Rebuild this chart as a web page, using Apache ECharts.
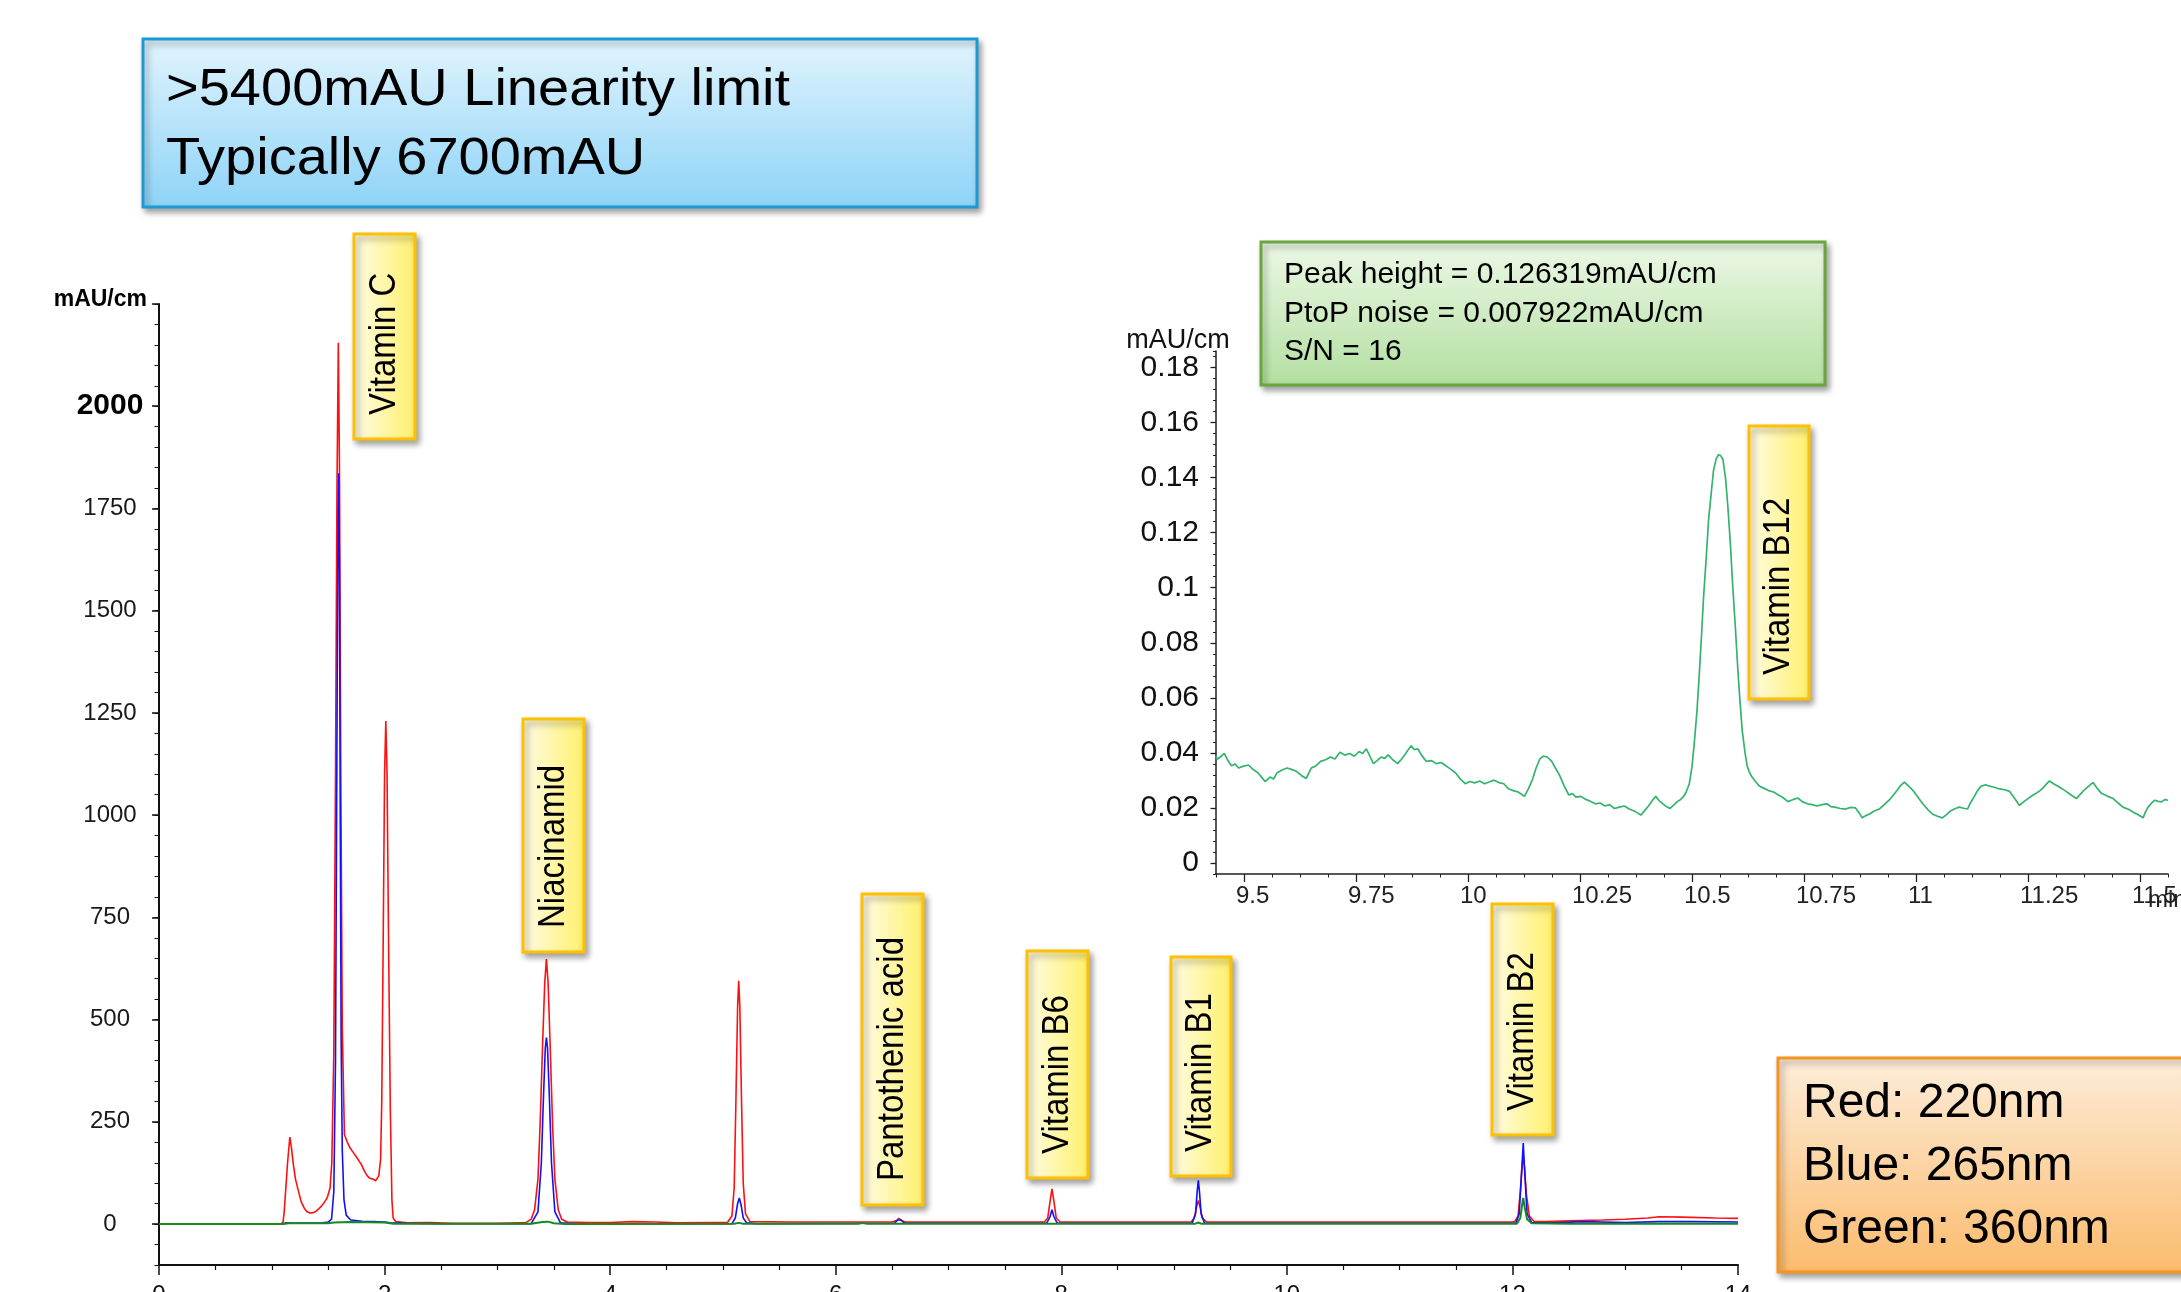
<!DOCTYPE html>
<html>
<head>
<meta charset="utf-8">
<script src="https://cdn.jsdelivr.net/npm/echarts@6/dist/echarts.min.js"></script>
<style>
html,body{margin:0;padding:0;background:#fff;}
#chart{width:2181px;height:1292px;}
</style>
</head>
<body>
<div id="chart"></div>
<script>
// ---------- DATA ----------
// Main chromatogram: [retention time (min), absorbance (mAU/cm)]
const red220 = [
[0,0],[1.08,0],[1.10,5],[1.11,30],[1.125,34],[1.14,150],[1.16,213],[1.175,185],[1.19,148],[1.21,110],
[1.237,80],[1.26,55],[1.288,39],[1.31,31],[1.339,27],[1.365,28],[1.39,31],[1.415,37],[1.44,44],[1.465,53],
[1.491,64],[1.517,89],[1.532,150],[1.55,420],[1.565,1100],[1.578,1800],[1.59,2155],[1.60,1850],[1.612,1100],
[1.625,480],[1.644,219],[1.67,200],[1.695,186],[1.72,176],[1.746,166],[1.77,156],[1.796,145],[1.82,130],
[1.847,118],[1.87,112],[1.898,110],[1.92,106],[1.949,118],[1.965,160],[1.975,300],[1.988,700],[2.0,1100],
[2.011,1230],[2.022,1100],[2.035,700],[2.051,280],[2.065,60],[2.076,15],[2.10,6],[2.2,3],[2.4,4],[2.6,2],
[3.0,2],[3.2,3],[3.25,3],[3.30,12],[3.33,35],[3.36,110],[3.38,250],[3.40,430],[3.42,590],[3.435,648],
[3.45,590],[3.47,420],[3.49,240],[3.51,110],[3.54,35],[3.57,12],[3.62,5],[3.8,4],[4.0,4],[4.2,6],[4.4,5],
[4.6,3],[4.9,4],[5.04,4],[5.08,20],[5.10,90],[5.115,300],[5.13,530],[5.14,595],[5.15,530],[5.165,300],
[5.18,100],[5.20,25],[5.24,6],[5.6,5],[6.0,5],[6.3,5],[6.50,5],[6.54,9],[6.56,14],[6.58,9],[6.62,5],
[7.0,5],[7.5,5],[7.85,5],[7.88,15],[7.90,55],[7.917,86],[7.935,55],[7.955,15],[7.99,5],[8.5,5],[9.15,5],
[9.18,15],[9.20,42],[9.215,58],[9.23,42],[9.25,15],[9.29,5],[10,5],[11,5],[12.0,5],[12.02,6],[12.05,20],
[12.07,80],[12.085,140],[12.096,166],[12.107,140],[12.125,70],[12.15,20],[12.19,7],[12.3,6],[12.5,8],
[12.8,10],[13.0,12],[13.2,15],[13.3,18],[13.5,17],[13.8,15],[14,14]
];
const blue265 = [
[0,0],[1.10,0],[1.12,3],[1.2,2],[1.45,3],[1.50,5],[1.53,12],[1.55,80],[1.565,400],[1.578,1200],[1.588,1750],
[1.593,1836],[1.60,1600],[1.607,1000],[1.615,450],[1.625,180],[1.64,60],[1.66,22],[1.70,10],[1.8,7],[1.9,6],
[2.0,5],[2.05,3],[2.2,2],[2.5,1],[3.30,1],[3.36,30],[3.39,150],[3.41,320],[3.425,430],[3.435,456],[3.445,430],
[3.46,320],[3.48,150],[3.51,30],[3.56,3],[3.7,1],[5.08,1],[5.11,15],[5.13,50],[5.145,64],[5.16,48],[5.18,15],
[5.21,3],[5.3,1],[6.52,2],[6.55,10],[6.565,13],[6.58,10],[6.61,2],[7.87,2],[7.90,18],[7.917,35],[7.935,18],
[7.965,2],[9.16,2],[9.19,25],[9.205,80],[9.215,107],[9.225,80],[9.24,25],[9.27,2],[12.03,2],[12.06,25],
[12.08,120],[12.096,198],[12.11,120],[12.13,25],[12.17,4],[12.4,3],[12.6,6],[13.0,4],[13.3,6],[13.6,6],[14,5]
];
const green360 = [
[0,0],[1.1,0],[1.15,2],[1.5,2],[1.55,4],[1.7,5],[2.0,4],[2.08,1],[3.3,1],[3.40,5],[3.45,6],[3.5,2],[3.6,0],
[5.1,1],[5.14,3],[5.18,1],[6.20,1],[6.24,3],[6.28,1],[9.19,1],[9.215,4],[9.24,1],[12.04,1],[12.07,15],
[12.085,45],[12.096,64],[12.11,40],[12.13,12],[12.17,2],[12.5,1],[14,1]
];
// Inset (zoom on Vitamin B12, 360 nm)
const b12Trace = [
[9.4375,0.0390],[9.440,0.0377],[9.448,0.0386],[9.456,0.0398],[9.464,0.0372],[9.472,0.0353],[9.480,0.0360],
[9.488,0.0345],[9.499,0.0352],[9.510,0.0356],[9.520,0.0340],[9.531,0.0328],[9.540,0.0310],[9.547,0.0296],
[9.558,0.0312],[9.566,0.0305],[9.574,0.0328],[9.585,0.0338],[9.596,0.0345],[9.606,0.0340],[9.617,0.0333],
[9.628,0.0318],[9.639,0.0307],[9.650,0.0345],[9.660,0.0352],[9.671,0.0369],[9.682,0.0375],[9.693,0.0385],
[9.703,0.0378],[9.714,0.0402],[9.725,0.0392],[9.736,0.0398],[9.746,0.0388],[9.757,0.0405],[9.765,0.0398],
[9.773,0.0415],[9.789,0.0361],[9.797,0.0372],[9.806,0.0385],[9.814,0.0380],[9.822,0.0393],[9.832,0.0375],
[9.843,0.0361],[9.851,0.0376],[9.859,0.0393],[9.866,0.0410],[9.873,0.0426],[9.880,0.0412],[9.888,0.0415],
[9.897,0.0390],[9.907,0.0369],[9.918,0.0372],[9.929,0.0361],[9.940,0.0365],[9.951,0.0353],[9.962,0.0340],
[9.972,0.0328],[9.983,0.0305],[9.994,0.0288],[10.004,0.0296],[10.015,0.0291],[10.026,0.0298],[10.037,0.0288],
[10.047,0.0294],[10.058,0.0301],[10.069,0.0292],[10.080,0.0288],[10.090,0.0270],[10.101,0.0263],[10.112,0.0258],
[10.126,0.0242],[10.135,0.0270],[10.144,0.0304],[10.152,0.0345],[10.160,0.0377],[10.168,0.0388],[10.177,0.0385],
[10.187,0.0369],[10.195,0.0345],[10.204,0.0320],[10.214,0.0282],[10.225,0.0247],[10.233,0.0252],[10.241,0.0239],
[10.252,0.0242],[10.263,0.0231],[10.273,0.0224],[10.284,0.0215],[10.295,0.0218],[10.306,0.0207],[10.316,0.0212],
[10.327,0.0198],[10.338,0.0203],[10.349,0.0207],[10.360,0.0196],[10.370,0.0190],[10.378,0.0182],[10.386,0.0174],
[10.395,0.0192],[10.403,0.0207],[10.411,0.0226],[10.419,0.0242],[10.427,0.0226],[10.435,0.0215],[10.443,0.0205],
[10.451,0.0198],[10.459,0.0210],[10.467,0.0223],[10.474,0.0230],[10.480,0.0239],[10.487,0.0258],[10.494,0.0288],
[10.500,0.0350],[10.505,0.0434],[10.511,0.0550],[10.516,0.0678],[10.521,0.0820],[10.526,0.0971],[10.532,0.1115],
[10.537,0.1247],[10.543,0.1345],[10.548,0.1426],[10.554,0.1468],[10.559,0.1483],[10.564,0.1480],[10.569,0.1467],
[10.575,0.1395],[10.580,0.1296],[10.586,0.1150],[10.591,0.1003],[10.597,0.0850],[10.602,0.0711],[10.607,0.0590],
[10.612,0.0483],[10.618,0.0405],[10.623,0.0353],[10.628,0.0330],[10.634,0.0312],[10.642,0.0295],[10.650,0.0280],
[10.660,0.0272],[10.671,0.0263],[10.682,0.0258],[10.693,0.0247],[10.703,0.0238],[10.714,0.0223],[10.725,0.0230],
[10.736,0.0236],[10.747,0.0222],[10.758,0.0215],[10.768,0.0212],[10.779,0.0207],[10.790,0.0212],[10.801,0.0215],
[10.810,0.0205],[10.819,0.0203],[10.831,0.0198],[10.843,0.0196],[10.854,0.0202],[10.865,0.0200],[10.873,0.0182],
[10.880,0.0164],[10.888,0.0172],[10.895,0.0177],[10.906,0.0188],[10.918,0.0196],[10.929,0.0212],[10.940,0.0228],
[10.950,0.0248],[10.959,0.0266],[10.966,0.0282],[10.974,0.0294],[10.983,0.0280],[10.992,0.0266],[11.004,0.0240],
[11.015,0.0215],[11.026,0.0195],[11.037,0.0177],[11.048,0.0170],[11.059,0.0164],[11.068,0.0176],[11.078,0.0190],
[11.088,0.0198],[11.097,0.0203],[11.106,0.0199],[11.115,0.0196],[11.122,0.0220],[11.130,0.0241],[11.137,0.0262],
[11.145,0.0279],[11.155,0.0284],[11.164,0.0279],[11.175,0.0275],[11.186,0.0269],[11.198,0.0266],[11.209,0.0260],
[11.220,0.0235],[11.231,0.0209],[11.240,0.0222],[11.250,0.0234],[11.259,0.0244],[11.268,0.0253],[11.276,0.0262],
[11.283,0.0272],[11.290,0.0285],[11.298,0.0298],[11.307,0.0288],[11.317,0.0279],[11.326,0.0270],[11.335,0.0260],
[11.347,0.0246],[11.358,0.0234],[11.367,0.0250],[11.376,0.0266],[11.386,0.0280],[11.395,0.0292],[11.404,0.0272],
[11.414,0.0253],[11.427,0.0243],[11.440,0.0234],[11.451,0.0218],[11.462,0.0203],[11.474,0.0195],[11.485,0.0184],
[11.496,0.0175],[11.507,0.0164],[11.512,0.0185],[11.518,0.0203],[11.526,0.0218],[11.533,0.0228],[11.541,0.0224],
[11.548,0.0222],[11.555,0.0230],[11.5625,0.0228]
];
const mainYTicks = [0,250,500,750,1000,1250,1500,1750,2000,2250];
const mainYLabels = [0,250,500,750,1000,1250,1500,1750,2000];
const insetXTicks = [9.5,9.75,10,10.25,10.5,10.75,11,11.25,11.5];
const insetYTicks = [0,0.02,0.04,0.06,0.08,0.1,0.12,0.14,0.16,0.18];
const peakNames = ['Vitamin C','Niacinamid','Pantothenic acid','Vitamin B6','Vitamin B1','Vitamin B2','Vitamin B12'];
const noteBlue = ['>5400mAU Linearity limit','Typically 6700mAU'];
const noteGreen = ['Peak height = 0.126319mAU/cm','PtoP noise = 0.007922mAU/cm','S/N = 16'];
const noteOrange = ['Red: 220nm','Blue: 265nm','Green: 360nm'];

// ---------- LAYOUT (annotation boxes, pixels) ----------
const FONT = '"Liberation Sans", Arial, Helvetica, sans-serif';
const labelBoxes = [
  {x:354, y:234, w:61, h:205},
  {x:523, y:719, w:61, h:233},
  {x:862, y:894, w:61, h:311},
  {x:1027,y:951, w:61, h:227},
  {x:1171,y:957, w:60, h:219},
  {x:1492,y:904, w:61, h:231},
  {x:1749,y:426, w:60, h:273}
];
const shadow = {shadowBlur:6, shadowOffsetX:3, shadowOffsetY:4, shadowColor:'rgba(0,0,0,0.35)'};

function grad(c0, c1, horizontal){
  return new echarts.graphic.LinearGradient(0,0,horizontal?1:0,horizontal?0:1,[{offset:0,color:c0},{offset:1,color:c1}]);
}
const graphics = [];
// Blue note
graphics.push({type:'rect', z:100, shape:{x:143,y:39,width:834,height:168},
  style:Object.assign({fill:grad('#e2f4fd','#8dd3f7'), stroke:'#1d9ad6', lineWidth:3}, shadow)});
noteBlue.forEach((t,i)=>graphics.push({type:'text', z:101, x:166, y:[91,160][i], scaleY:0.93,
  style:{text:t, fontSize:56, fontFamily:FONT, fill:'#000', textAlign:'left', textVerticalAlign:'middle'}}));
// Green note
graphics.push({type:'rect', z:100, shape:{x:1261,y:242,width:564,height:143},
  style:Object.assign({fill:grad('#edf8e7','#b2dfa0'), stroke:'#6aa63c', lineWidth:3}, shadow)});
noteGreen.forEach((t,i)=>graphics.push({type:'text', z:101, x:1284, y:[275,314,352][i],
  style:{text:t, fontSize:30, fontFamily:FONT, fill:'#000', textAlign:'left', textVerticalAlign:'middle'}}));
// Orange legend note
graphics.push({type:'rect', z:100, shape:{x:1778,y:1058,width:430,height:214},
  style:Object.assign({fill:grad('#fdedda','#fbbb6d'), stroke:'#f7941d', lineWidth:3}, shadow)});
noteOrange.forEach((t,i)=>graphics.push({type:'text', z:101, x:1803, y:[1104,1167,1230][i],
  style:{text:t, fontSize:48, fontFamily:FONT, fill:'#000', textAlign:'left', textVerticalAlign:'middle'}}));
// Yellow peak labels
peakNames.forEach((name,i)=>{
  const b = labelBoxes[i];
  graphics.push({type:'rect', z:100, shape:{x:b.x,y:b.y,width:b.w,height:b.h},
    style:Object.assign({fill:grad('#fffce6','#fff06a',true), stroke:'#ffc000', lineWidth:3}, shadow)});
  graphics.push({type:'text', z:101, x:b.x+b.w/2, y:b.y+b.h-24, rotation:Math.PI/2, scaleY:1.12,
    style:{text:name, fontSize:33, fontFamily:FONT, fill:'#000', textAlign:'left', textVerticalAlign:'middle'}});
});

const axisColor = '#111';
const option = {
  animation:false,
  backgroundColor:'#fff',
  textStyle:{fontFamily:FONT},
  grid:[
    {left:159, right:443, top:304, bottom:27, containLabel:false, outerBoundsMode:'none'},
    {left:1216, right:13, top:351, bottom:418, containLabel:false, outerBoundsMode:'none'}
  ],
  xAxis:[
    {gridIndex:0, type:'value', position:'bottom', min:0, max:14, interval:2,
     axisLine:{onZero:false, lineStyle:{color:axisColor, width:2}},
     axisTick:{length:10, lineStyle:{color:axisColor, width:1.5}},
     minorTick:{show:true, splitNumber:4, length:5, lineStyle:{color:axisColor, width:1.2}},
     axisLabel:{fontSize:24, color:axisColor, margin:18, fontFamily:FONT},
     splitLine:{show:false}},
    {gridIndex:1, type:'value', position:'bottom', min:9.4375, max:11.5625,
     axisLine:{onZero:false, lineStyle:{color:'#222', width:1.5}},
     axisTick:{customValues:insetXTicks, length:8, lineStyle:{color:'#222', width:1.3}},
     axisLabel:{customValues:insetXTicks, fontSize:24, color:'#222', margin:10, fontFamily:FONT, align:'left', padding:[0,0,0,-8]},
     splitLine:{show:false},
     name:'min', nameLocation:'end', nameGap:-20, nameMoveOverlap:false,
     nameTextStyle:{fontSize:24, color:'#222', fontFamily:FONT, align:'left', verticalAlign:'top', padding:[14,0,0,0]}},
    {gridIndex:1, type:'value', position:'bottom', min:9.4375, max:11.5625, interval:0.0625,
     axisLine:{show:false, onZero:false}, axisTick:{length:3.5, lineStyle:{color:'#222', width:1}},
     axisLabel:{show:false}, splitLine:{show:false}}
  ],
  yAxis:[
    {gridIndex:0, type:'value', position:'left', min:-100, max:2250,
     axisLine:{show:true, onZero:false, lineStyle:{color:axisColor, width:2}},
     axisTick:{show:true, customValues:mainYTicks, length:7, lineStyle:{color:axisColor, width:1.5}},
     axisLabel:{customValues:mainYLabels, fontSize:24, color:'#1a1a1a', margin:49, align:'center', fontFamily:FONT,
       formatter:function(v){ return v===2000 ? '{b|2000}' : String(v); },
       rich:{b:{fontSize:30, fontWeight:'bold', color:'#000', fontFamily:FONT}}},
     splitLine:{show:false},
     name:'mAU/cm', nameLocation:'end', nameGap:4, nameMoveOverlap:false,
     nameTextStyle:{fontSize:23, fontWeight:'bold', color:'#000', fontFamily:FONT, align:'right', verticalAlign:'middle', padding:[0,12,0,0]}},
    {gridIndex:0, type:'value', position:'left', min:-100, max:2250, interval:50,
     axisLine:{show:false, onZero:false}, axisTick:{show:true, length:4.5, lineStyle:{color:axisColor, width:1}},
     axisLabel:{show:false}, splitLine:{show:false}},
    {gridIndex:1, type:'value', position:'left', min:-0.004, max:0.186,
     axisLine:{show:true, onZero:false, lineStyle:{color:'#222', width:1.5}},
     axisTick:{show:true, customValues:insetYTicks, length:5.5, lineStyle:{color:'#222', width:1.3}},
     axisLabel:{customValues:insetYTicks, fontSize:30, color:'#111', margin:17, fontFamily:FONT},
     splitLine:{show:false},
     name:'mAU/cm', nameLocation:'end', nameGap:10, nameMoveOverlap:false,
     nameTextStyle:{fontSize:27, color:'#111', fontFamily:FONT, align:'center', verticalAlign:'middle', padding:[0,76,0,0]}},
    {gridIndex:1, type:'value', position:'left', min:-0.004, max:0.186, interval:0.004,
     axisLine:{show:false, onZero:false}, axisTick:{show:true, length:3, lineStyle:{color:'#222', width:1}},
     axisLabel:{show:false}, splitLine:{show:false}}
  ],
  series:[
    {type:'line', name:'220nm', xAxisIndex:0, yAxisIndex:0, data:red220, showSymbol:false, symbol:'none',
     lineStyle:{color:'#ff1010', width:1.6}, z:2},
    {type:'line', name:'265nm', xAxisIndex:0, yAxisIndex:0, data:blue265, showSymbol:false, symbol:'none',
     lineStyle:{color:'#1010ff', width:1.6}, z:3},
    {type:'line', name:'360nm', xAxisIndex:0, yAxisIndex:0, data:green360, showSymbol:false, symbol:'none',
     lineStyle:{color:'#178a1f', width:2}, z:4},
    {type:'line', name:'360nm zoom', xAxisIndex:1, yAxisIndex:2, data:b12Trace, showSymbol:false, symbol:'none',
     lineStyle:{color:'#33b46c', width:1.7}, z:4}
  ],
  graphic:{elements:graphics}
};
const chart = echarts.init(document.getElementById('chart'), null, {renderer:'canvas'});
chart.setOption(option);
</script>
</body>
</html>
